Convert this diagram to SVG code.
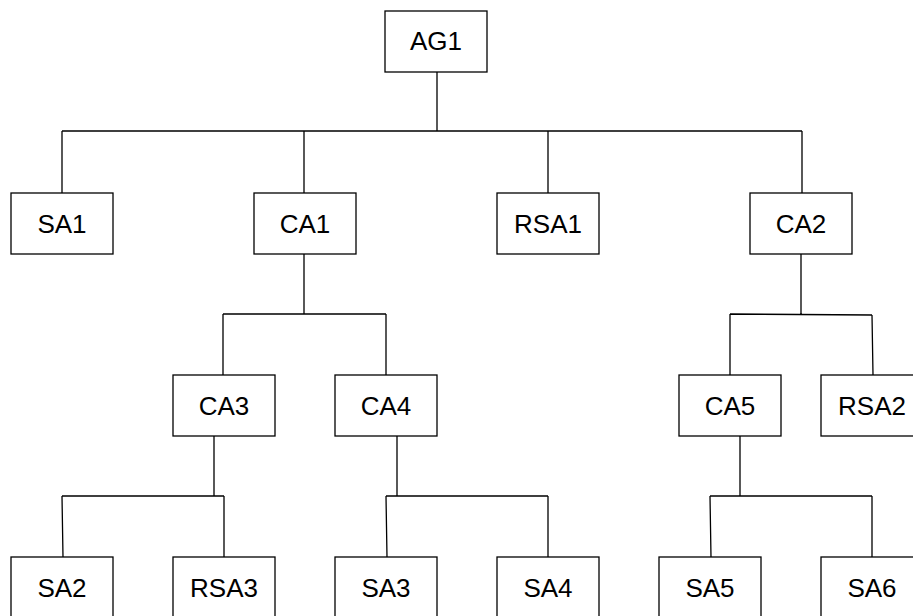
<svg xmlns="http://www.w3.org/2000/svg" width="913" height="616" viewBox="0 0 913 616">
<style>
rect.n{fill:#fff;stroke:#000;stroke-width:1.3}
text{font-family:"Liberation Sans",Arial,sans-serif;font-size:26px;fill:#000;text-anchor:middle}
#connectors path{fill:none;stroke:#000;stroke-width:1.3}
</style>
<rect width="913" height="616" fill="#fff"/>
<g id="connectors">
<path d="M437,71V131M62,131H802M62,131V193M304,131V193M548,131V193M802,131V193"/>
<path d="M304,254V314M223,314H386M223,314V375M386,314V375"/>
<path d="M801,254V314M730,314L872,315M730,314V375M872,315L873,375"/>
<path d="M214,436V496M62,496H224M62,496L63,557M224,496V557"/>
<path d="M397,436V496M386,496H548M386,496L387,557M548,496V557"/>
<path d="M740,436V496M710,496H872M710,496L711,557M872,496V557"/>
</g>
<g id="AG1"><rect class="n" x="385" y="11" width="102" height="61"/><text x="436" y="50">AG1</text></g>
<g id="SA1"><rect class="n" x="11" y="193" width="102" height="61"/><text x="62" y="233">SA1</text></g>
<g id="CA1"><rect class="n" x="254" y="193" width="102" height="61"/><text x="305" y="233">CA1</text></g>
<g id="RSA1"><rect class="n" x="497" y="193" width="102" height="61"/><text x="548" y="233">RSA1</text></g>
<g id="CA2"><rect class="n" x="750" y="193" width="102" height="61"/><text x="801" y="233">CA2</text></g>
<g id="CA3"><rect class="n" x="173" y="375" width="102" height="61"/><text x="224" y="415">CA3</text></g>
<g id="CA4"><rect class="n" x="335" y="375" width="102" height="61"/><text x="386" y="415">CA4</text></g>
<g id="CA5"><rect class="n" x="679" y="375" width="102" height="61"/><text x="730" y="415">CA5</text></g>
<g id="RSA2"><rect class="n" x="821" y="375" width="102" height="61"/><text x="872" y="415">RSA2</text></g>
<g id="SA2"><rect class="n" x="11" y="557" width="102" height="61"/><text x="62" y="597">SA2</text></g>
<g id="RSA3"><rect class="n" x="173" y="557" width="102" height="61"/><text x="224" y="597">RSA3</text></g>
<g id="SA3"><rect class="n" x="335" y="557" width="102" height="61"/><text x="386" y="597">SA3</text></g>
<g id="SA4"><rect class="n" x="497" y="557" width="102" height="61"/><text x="548" y="597">SA4</text></g>
<g id="SA5"><rect class="n" x="659" y="557" width="102" height="61"/><text x="710" y="597">SA5</text></g>
<g id="SA6"><rect class="n" x="821" y="557" width="102" height="61"/><text x="872" y="597">SA6</text></g>
</svg>
